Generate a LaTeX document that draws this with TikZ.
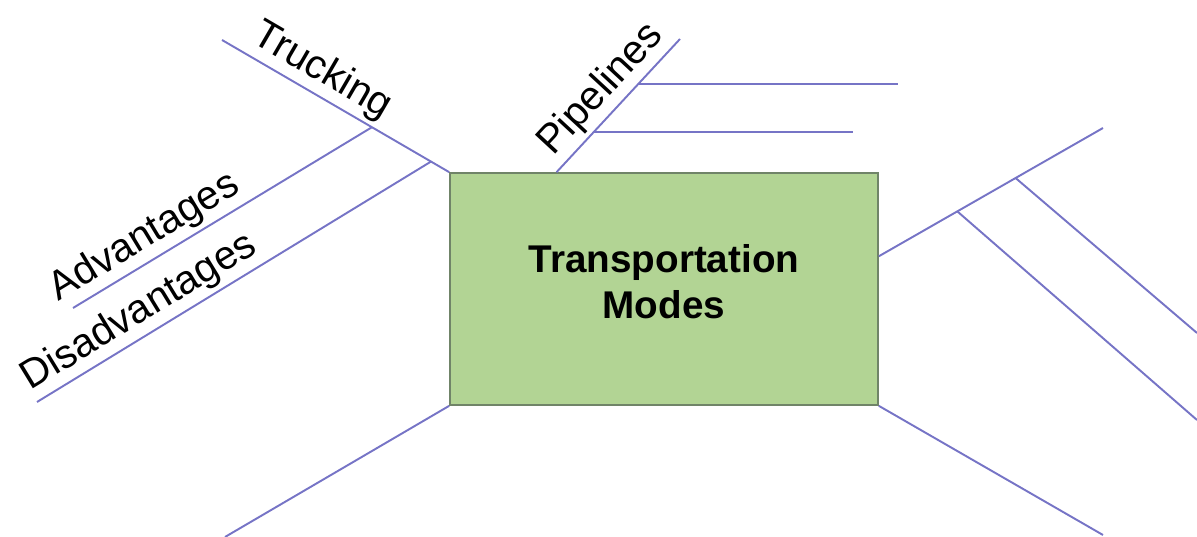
\documentclass[tikz,border=0pt]{standalone}
\usepackage{fontspec}
\setmainfont{Liberation Sans}
\usepackage{xcolor}
\usepackage{tikz}
\usetikzlibrary{calc}

\definecolor{bone}{RGB}{118,116,198}
\definecolor{modefill}{RGB}{178,212,148}
\definecolor{modeedge}{RGB}{112,132,104}

\begin{document}
\begin{tikzpicture}[x=0.02cm,y=0.02cm,
  bone/.style={draw=bone, line width=1.1pt},
  lbl/.style={sloped, above, inner sep=2pt, font=\fontsize{23}{27}\selectfont}]
  \useasboundingbox (0,0) rectangle (1197,537);
  \node[draw=modeedge, fill=modefill, line width=1pt, minimum width=8.56cm, minimum height=4.64cm,
        align=center, text depth=0.3cm, font=\bfseries\fontsize{22}{26}\selectfont] (modes) at (664,248) {Transportation\\Modes};

  % free ends
  \coordinate (trk) at (222,497);
  \coordinate (adv) at (73,229);
  \coordinate (dis) at (37,135);
  \coordinate (pip) at (680,498);
  \coordinate (pipA) at (898,0);
  \coordinate (pipB) at (853,0);
  \coordinate (ru) at (1103,409);
  \coordinate (ruA) at (1197,117);
  \coordinate (ruB) at (1197,204);
  \coordinate (rd) at (1103,2);
  \coordinate (ld) at (225,0);

  % trucking
  \draw[bone] (modes.north west) -- node[lbl, pos=0.61] {Trucking} (trk);
  \coordinate (t1) at ($(modes.north west)!0.34!(trk)$);
  \coordinate (t2) at ($(modes.north west)!0.08!(trk)$);
  \draw[bone] (t1) -- node[lbl, pos=0.72] {Advantages} (adv);
  \draw[bone] (t2) -- node[lbl, pos=0.71] {Disadvantages} (dis);

  % pipelines
  \coordinate (p0) at ($(modes.north west)!0.25!(modes.north east)$);
  \draw[bone] (p0) -- node[lbl, pos=0.5] {Pipelines} (pip);
  \coordinate (p1) at ($(p0)!0.66!(pip)$);
  \coordinate (p2) at ($(p0)!0.30!(pip)$);
  \draw[bone] (p1) -- (p1 -| pipA);
  \draw[bone] (p2) -- (p2 -| pipB);

  % right side
  \coordinate (r0) at ($(modes.south east)!0.64!(modes.north east)$);
  \draw[bone] (r0) -- (ru);
  \coordinate (r1) at ($(r0)!0.35!(ru)$);
  \coordinate (r2) at ($(r0)!0.61!(ru)$);
  \draw[bone] (r1) -- (ruA);
  \draw[bone] (r2) -- (ruB);
  \draw[bone] (modes.south east) -- (rd);
  \draw[bone] (modes.south west) -- (ld);
\end{tikzpicture}
\end{document}
